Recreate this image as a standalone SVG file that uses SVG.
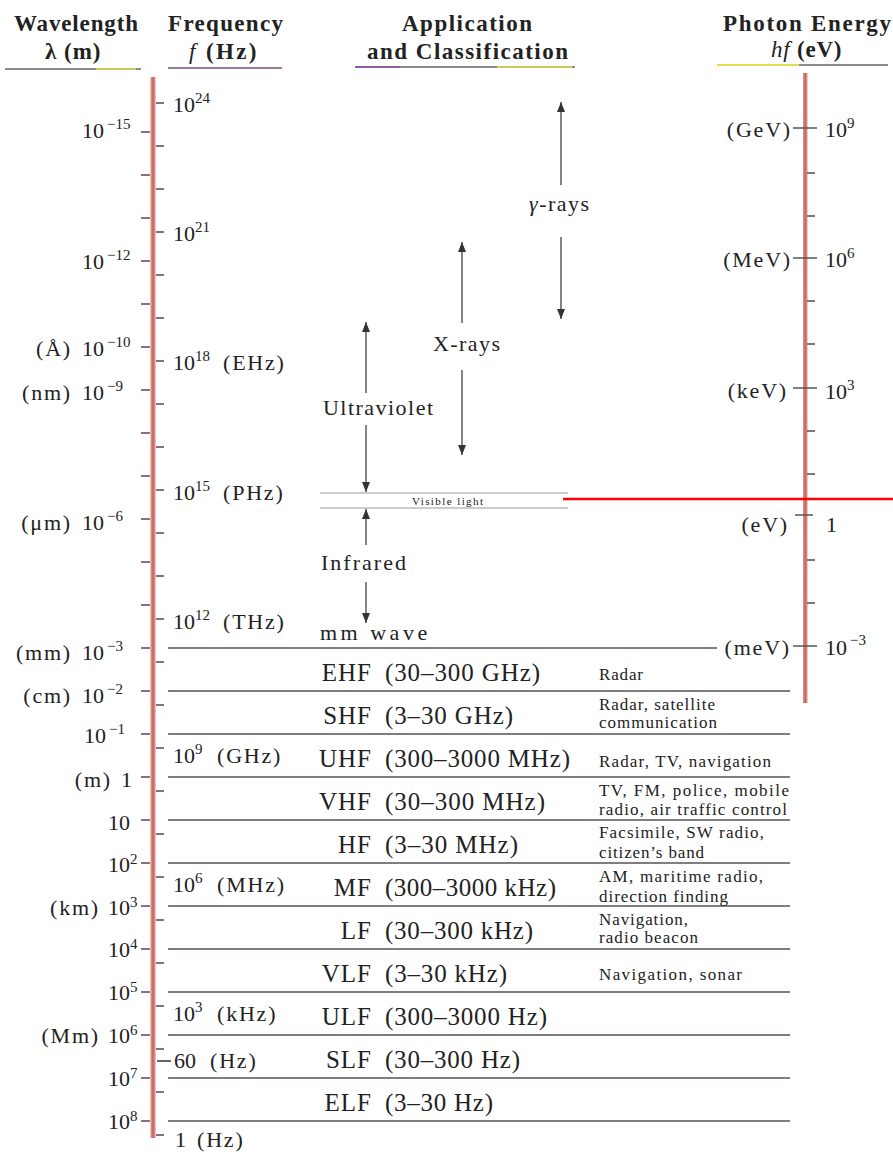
<svg xmlns="http://www.w3.org/2000/svg" width="893" height="1152" viewBox="0 0 893 1152" font-family="'Liberation Serif', 'Times New Roman', 'DejaVu Serif', serif">
<style>
text{font-family:'Liberation Serif','Times New Roman','DejaVu Serif',serif;fill:#222;font-size:22px}
.u{letter-spacing:1.8px}
.sup{font-size:15px;letter-spacing:0}
.h{font-weight:bold;font-size:23px}
.hs{font-weight:bold;font-size:23px;letter-spacing:1.5px}
.band{font-size:25px}
.ab{font-size:25px;letter-spacing:1px;text-anchor:end}
.app{font-size:17px}
.small{font-size:11px}
.tick{stroke:#6a4058;stroke-width:1.5;fill:none}
.bl{stroke:#5a5058;stroke-width:1.3}
.arr{stroke:#333;stroke-width:1.2;marker-end:url(#ah)}
.bar{fill:#dc8a80}
.core{stroke:#b8605a;stroke-width:1.2}
</style>
<defs>
<marker id="ah" viewBox="0 0 10 8" refX="10" refY="4" markerUnits="userSpaceOnUse" markerWidth="10" markerHeight="8" orient="auto">
<path d="M0,0L10,4L0,8z" fill="#333"/>
</marker>
</defs>
<rect width="893" height="1152" fill="#fff"/>

<g id="headers">
<text class="h" x="14" y="31" textLength="124" lengthAdjust="spacing">Wavelength</text>
<text class="hs" x="45" y="59" textLength="57" lengthAdjust="spacing">λ (m)</text>
<line x1="5" y1="69" x2="141" y2="69" stroke="#666" stroke-width="1.3"/>
<line x1="96" y1="69" x2="136" y2="69" stroke="#e6dc50" stroke-width="1.6"/>
<text class="h" x="168" y="31" textLength="115" lengthAdjust="spacing">Frequency</text>
<text class="hs" x="189" y="59" textLength="69" lengthAdjust="spacing"><tspan font-style="italic" font-weight="normal">f</tspan> (Hz)</text>
<line x1="168" y1="68" x2="282" y2="68" stroke="#7a4a80" stroke-width="1.3"/>
<text class="h" x="402" y="31" textLength="130" lengthAdjust="spacing">Application</text>
<text class="h" x="367" y="59" textLength="201" lengthAdjust="spacing">and Classification</text>
<line x1="355" y1="67" x2="575" y2="67" stroke="#666" stroke-width="1.3"/>
<line x1="355" y1="67" x2="400" y2="67" stroke="#8a50a0" stroke-width="1.3"/>
<line x1="497" y1="67" x2="572" y2="67" stroke="#e6dc50" stroke-width="1.6"/>
<text class="h" x="723" y="31" textLength="168" lengthAdjust="spacing">Photon Energy</text>
<text class="hs" x="771" y="57" textLength="72" lengthAdjust="spacing"><tspan font-style="italic" font-weight="normal">hf</tspan> (eV)</text>
<line x1="717" y1="65" x2="888" y2="65" stroke="#666" stroke-width="1.3"/>
<line x1="717" y1="65" x2="799" y2="65" stroke="#e6dc50" stroke-width="1.8"/>
</g>

<g id="axis-main">
<rect class="bar" x="150.5" y="77" width="5" height="1061"/>
<line class="core" x1="153" y1="77" x2="153" y2="1138"/>
<path class="tick" d="M141 132h9M141 175h9M141 218h9M141 261h9M141 304h9M141 347h9M141 390h9M141 433h9M141 476h9M141 519h9M141 562h9M141 605h9M141 648h9M141 691h9M141 734h9M141 777h9M141 820h9M141 863h9M141 906h9M141 949h9M141 992h9M141 1035h9M141 1078h9M141 1121h9"/>
<path class="tick" d="M156 103h8M156 146h8M156 189h8M156 232h8M156 275h8M156 318h8M156 361h8M156 404h8M156 447h8M156 490h8M156 533h8M156 576h8M156 619h8M156 662h8M156 705h8M156 748h8M156 791h8M156 834h8M156 877h8M156 920h8M156 963h8M156 1006h8M156 1049h8M156 1092h8M156 1135h8"/>
<line x1="157" y1="1061" x2="171" y2="1061" stroke="#333" stroke-width="1.5"/>
</g>

<g id="wavelength-labels">
<text x="82" y="138">10<tspan class="sup" dx="3" dy="-9">−15</tspan></text>
<text x="82" y="269">10<tspan class="sup" dx="3" dy="-9">−12</tspan></text>
<text class="u" x="72" y="356" text-anchor="end">(Å)</text>
<text x="82" y="356">10<tspan class="sup" dx="3" dy="-9">−10</tspan></text>
<text class="u" x="72" y="400" text-anchor="end">(nm)</text>
<text x="82" y="400">10<tspan class="sup" dx="3" dy="-9">−9</tspan></text>
<text class="u" x="72" y="530" text-anchor="end">(μm)</text>
<text x="82" y="530">10<tspan class="sup" dx="3" dy="-9">−6</tspan></text>
<text class="u" x="72" y="660" text-anchor="end">(mm)</text>
<text x="82" y="660">10<tspan class="sup" dx="3" dy="-9">−3</tspan></text>
<text class="u" x="72" y="703" text-anchor="end">(cm)</text>
<text x="82" y="703">10<tspan class="sup" dx="3" dy="-9">−2</tspan></text>
<text x="84" y="743">10<tspan class="sup" dx="3" dy="-9">−1</tspan></text>
<text class="u" x="112" y="787" text-anchor="end">(m)</text>
<text x="121" y="787">1</text>
<text x="108" y="830">10</text>
<text x="108" y="872">10<tspan class="sup" dy="-8">2</tspan></text>
<text class="u" x="100" y="915" text-anchor="end">(km)</text>
<text x="108" y="915">10<tspan class="sup" dy="-8">3</tspan></text>
<text x="108" y="957">10<tspan class="sup" dy="-8">4</tspan></text>
<text x="108" y="1000">10<tspan class="sup" dy="-8">5</tspan></text>
<text class="u" x="100" y="1043" text-anchor="end">(Mm)</text>
<text x="108" y="1043">10<tspan class="sup" dy="-8">6</tspan></text>
<text x="108" y="1086">10<tspan class="sup" dy="-8">7</tspan></text>
<text x="108" y="1129">10<tspan class="sup" dy="-8">8</tspan></text>
</g>

<g id="frequency-labels">
<text x="173" y="112">10<tspan class="sup" dy="-9">24</tspan></text>
<text x="173" y="241">10<tspan class="sup" dy="-9">21</tspan></text>
<text x="173" y="370">10<tspan class="sup" dy="-9">18</tspan></text>
<text class="u" x="223" y="370">(EHz)</text>
<text x="173" y="500">10<tspan class="sup" dy="-9">15</tspan></text>
<text class="u" x="223" y="500">(PHz)</text>
<text x="173" y="629">10<tspan class="sup" dy="-9">12</tspan></text>
<text class="u" x="223" y="629">(THz)</text>
<text x="173" y="763">10<tspan class="sup" dy="-9">9</tspan></text>
<text class="u" x="217" y="763">(GHz)</text>
<text x="173" y="892">10<tspan class="sup" dy="-9">6</tspan></text>
<text class="u" x="217" y="892">(MHz)</text>
<text x="173" y="1021">10<tspan class="sup" dy="-9">3</tspan></text>
<text class="u" x="217" y="1021">(kHz)</text>
<text x="174" y="1068">60</text>
<text class="u" x="210" y="1068">(Hz)</text>
<text x="175" y="1147">1</text>
<text class="u" x="197" y="1147">(Hz)</text>
</g>

<g id="axis-energy">
<rect class="bar" x="803" y="73" width="4.5" height="630"/>
<line class="core" x1="805.2" y1="73" x2="805.2" y2="703"/>
<path class="tick" d="M807 173h8M807 216h8M807 301h8M807 344h8M807 431h8M807 474h8M807 560h8M807 603h8"/>
<path d="M793 128h24M793 258h24M793 388h24M795 515h18M793 646h24" stroke="#555" stroke-width="1.5" fill="none"/>
<text class="u" x="792" y="137" text-anchor="end">(GeV)</text>
<text x="825" y="137">10<tspan class="sup" dy="-9">9</tspan></text>
<text class="u" x="792" y="267" text-anchor="end">(MeV)</text>
<text x="825" y="267">10<tspan class="sup" dy="-9">6</tspan></text>
<text class="u" x="788" y="398" text-anchor="end">(keV)</text>
<text x="825" y="399">10<tspan class="sup" dy="-9">3</tspan></text>
<text class="u" x="789" y="532" text-anchor="end">(eV)</text>
<text x="826" y="532">1</text>
<text class="u" x="791" y="655" text-anchor="end">(meV)</text>
<text x="825" y="655">10<tspan class="sup" dx="3" dy="-10">−3</tspan></text>
</g>

<g id="visible-light">
<line x1="320" y1="493" x2="568" y2="493" stroke="#999" stroke-width="1"/>
<line x1="320" y1="508" x2="568" y2="508" stroke="#999" stroke-width="1"/>
<text class="small" x="412" y="505" textLength="71" lengthAdjust="spacing">Visible light</text>
<line x1="563" y1="499" x2="893" y2="499" stroke="#ff0000" stroke-width="2.5"/>
</g>

<g id="spectrum-labels">
<text x="529" y="211" textLength="60" lengthAdjust="spacing"><tspan font-style="italic">γ</tspan>-rays</text>
<text x="433" y="351" textLength="67" lengthAdjust="spacing">X-rays</text>
<text x="323" y="415" textLength="110" lengthAdjust="spacing">Ultraviolet</text>
<text x="321" y="570" textLength="85" lengthAdjust="spacing">Infrared</text>
<text x="320" y="640" font-size="25" letter-spacing="3.5">mm wave</text>
</g>

<g id="connectors">
<line class="arr" x1="561" y1="185" x2="561" y2="102"/>
<line class="arr" x1="561" y1="237" x2="561" y2="319"/>
<line class="arr" x1="462" y1="323" x2="462" y2="242"/>
<line class="arr" x1="462" y1="370" x2="462" y2="455"/>
<line class="arr" x1="366" y1="393" x2="366" y2="322"/>
<line class="arr" x1="366" y1="425" x2="366" y2="492"/>
<line class="arr" x1="366" y1="545" x2="366" y2="509"/>
<line class="arr" x1="366" y1="582" x2="366" y2="623"/>
</g>

<g id="bands">
<line class="bl" x1="168" y1="648" x2="717" y2="648"/>
<path class="bl" fill="none" d="M168 691H790M168 734H790M168 777H790M168 820H790M168 863H790M168 906H790M168 949H790M168 992H790M168 1035H790M168 1078H790M168 1121H790"/>
<g id="band-EHF"><text class="ab" x="372" y="681">EHF</text><text class="band" x="385" y="681" textLength="155" lengthAdjust="spacing">(30–300 GHz)</text><text class="app" x="599" y="680" textLength="44" lengthAdjust="spacing">Radar</text></g>
<g id="band-SHF"><text class="ab" x="372" y="724">SHF</text><text class="band" x="385" y="724" textLength="128" lengthAdjust="spacing">(3–30 GHz)</text><text class="app" x="599" y="710" textLength="116" lengthAdjust="spacing">Radar, satellite</text><text class="app" x="599" y="728" textLength="118" lengthAdjust="spacing">communication</text></g>
<g id="band-UHF"><text class="ab" x="372" y="767">UHF</text><text class="band" x="385" y="767" textLength="185" lengthAdjust="spacing">(300–3000 MHz)</text><text class="app" x="599" y="767" textLength="172" lengthAdjust="spacing">Radar, TV, navigation</text></g>
<g id="band-VHF"><text class="ab" x="372" y="810">VHF</text><text class="band" x="385" y="810" textLength="160" lengthAdjust="spacing">(30–300 MHz)</text><text class="app" x="599" y="796" textLength="190" lengthAdjust="spacing">TV, FM, police, mobile</text><text class="app" x="599" y="815" textLength="188" lengthAdjust="spacing">radio, air traffic control</text></g>
<g id="band-HF"><text class="ab" x="372" y="853">HF</text><text class="band" x="385" y="853" textLength="133" lengthAdjust="spacing">(3–30 MHz)</text><text class="app" x="599" y="838" textLength="165" lengthAdjust="spacing">Facsimile, SW radio,</text><text class="app" x="599" y="858" textLength="105" lengthAdjust="spacing">citizen’s band</text></g>
<g id="band-MF"><text class="ab" x="372" y="896">MF</text><text class="band" x="385" y="896" textLength="171" lengthAdjust="spacing">(300–3000 kHz)</text><text class="app" x="599" y="882" textLength="164" lengthAdjust="spacing">AM, maritime radio,</text><text class="app" x="599" y="902" textLength="129" lengthAdjust="spacing">direction finding</text></g>
<g id="band-LF"><text class="ab" x="372" y="939">LF</text><text class="band" x="385" y="939" textLength="148" lengthAdjust="spacing">(30–300 kHz)</text><text class="app" x="599" y="925" textLength="89" lengthAdjust="spacing">Navigation,</text><text class="app" x="599" y="943" textLength="99" lengthAdjust="spacing">radio beacon</text></g>
<g id="band-VLF"><text class="ab" x="372" y="982">VLF</text><text class="band" x="385" y="982" textLength="122" lengthAdjust="spacing">(3–30 kHz)</text><text class="app" x="599" y="980" textLength="143" lengthAdjust="spacing">Navigation,  sonar</text></g>
<g id="band-ULF"><text class="ab" x="372" y="1025">ULF</text><text class="band" x="385" y="1025" textLength="162" lengthAdjust="spacing">(300–3000 Hz)</text></g>
<g id="band-SLF"><text class="ab" x="372" y="1068">SLF</text><text class="band" x="385" y="1068" textLength="135" lengthAdjust="spacing">(30–300 Hz)</text></g>
<g id="band-ELF"><text class="ab" x="372" y="1111">ELF</text><text class="band" x="385" y="1111" textLength="108" lengthAdjust="spacing">(3–30 Hz)</text></g>
</g>
</svg>
